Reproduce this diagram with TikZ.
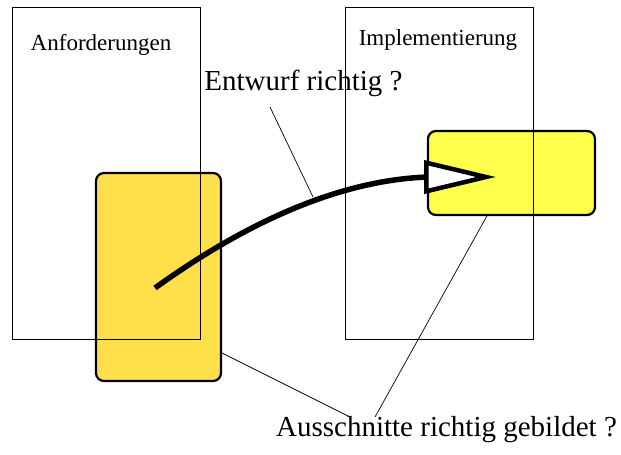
\documentclass[tikz,border=0pt]{standalone}
\usepackage{fontspec}
\setmainfont{Liberation Serif}
\usepackage{tikz}
\usetikzlibrary{arrows.meta}
\definecolor{reqyellow}{RGB}{255,224,75}
\definecolor{implyellow}{RGB}{255,255,75}

\begin{document}
\begin{tikzpicture}[x=1pt,y=-1pt,
    area/.style={draw,line width=0.8pt,minimum width=188pt,minimum height=332pt,inner sep=0pt},
    part/.style={draw,line width=2.2pt,rounded corners=8pt,inner sep=0pt},
    title/.style={anchor=base,inner sep=0pt,font=\fontsize{23}{27}\selectfont},
    question/.style={anchor=base,inner sep=0pt,font=\fontsize{29}{34}\selectfont},
    leader/.style={line width=0.7pt}]

    \useasboundingbox (0,0) rectangle (621,455);

    \node[part,fill=reqyellow,minimum width=125pt,minimum height=208pt]  (reqpart)  at (158.5,277) {};
    \node[part,fill=implyellow,minimum width=167pt,minimum height=84pt]  (implpart) at (511.5,173) {};

    \node[area]  (req)        at (106,173)   {};
    \node[area]  (impl)       at (439,173)   {};
    \node[title] (reqtitle)   at (101,50)    {Anforderungen};
    \node[title] (impltitle)  at (438,45)    {Implementierung};
    \node[question] (design)  at (303.5,90)  {Entwurf richtig ?};
    \node[question] (slices)  at (446.5,436) {Ausschnitte richtig gebildet ?};

    \coordinate (start)        at (155,288);
    \coordinate (base)         at (428,177);
    \coordinate (tip)          at (496,177);
    \coordinate (designtop)    at (270,107);
    \coordinate (designfoot)   at (313,197);
    \coordinate (reqcorner)    at (222,353);
    \coordinate (implfoot)     at (488,214);
    \coordinate (slicesleft)   at (350,417);
    \coordinate (slicesright)  at (375,417);

    \draw[leader] (designtop) -- (designfoot);
    \draw[leader] (reqcorner) -- (slicesleft);
    \draw[leader] (implfoot)  -- (slicesright);

    \draw[line width=5.5pt,-{Triangle[length=72pt,width=33pt,line width=4.5pt,fill=white]}]
        (start) .. controls (248,221) and (341,180) .. (base) -- (tip);
\end{tikzpicture}
\end{document}
